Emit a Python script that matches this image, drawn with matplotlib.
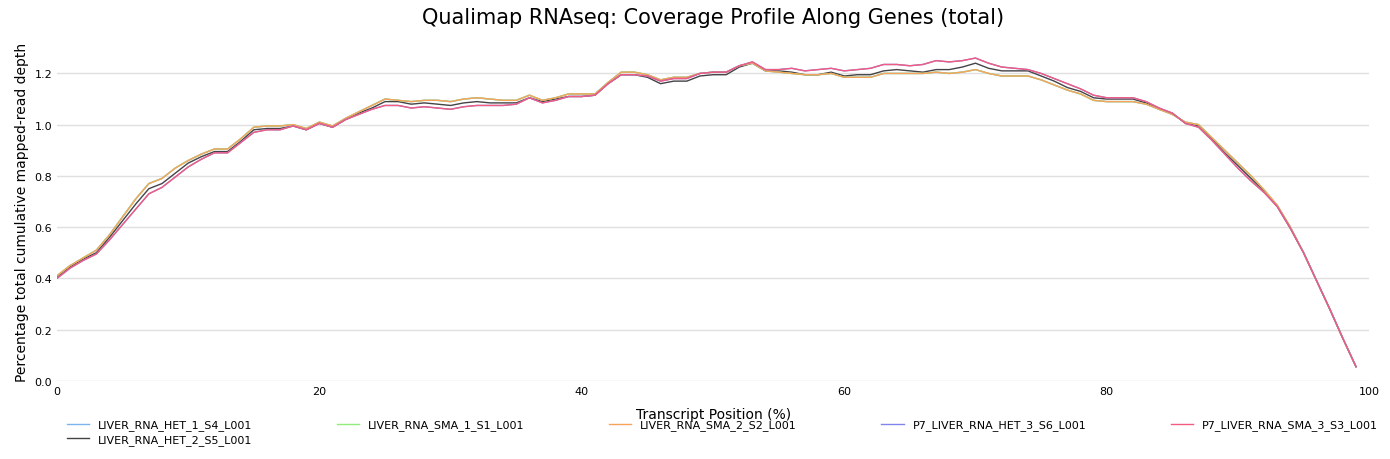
import matplotlib.pyplot as plt
import numpy as np

# Coverage values (x = 0..99 %)
position = list(range(100))

upper = [0.41, 0.45, 0.48, 0.51, 0.57, 0.64, 0.71, 0.77, 0.79, 0.83,
         0.86, 0.885, 0.905, 0.905, 0.945, 0.99, 0.995, 0.995, 1.0, 0.985,
         1.01, 0.995, 1.025, 1.05, 1.075, 1.1, 1.095, 1.09, 1.095, 1.095,
         1.09, 1.1, 1.105, 1.1, 1.095, 1.095, 1.115, 1.095, 1.105, 1.12,
         1.12, 1.12, 1.165, 1.205, 1.205, 1.195, 1.175, 1.185, 1.185, 1.2,
         1.205, 1.205, 1.23, 1.24, 1.21, 1.205, 1.2, 1.195, 1.195, 1.2,
         1.185, 1.185, 1.185, 1.2, 1.2, 1.2, 1.2, 1.205, 1.2, 1.205,
         1.215, 1.2, 1.19, 1.19, 1.19, 1.175, 1.155, 1.135, 1.12, 1.095,
         1.09, 1.09, 1.09, 1.08, 1.06, 1.04, 1.01, 1.0, 0.95, 0.9,
         0.85, 0.8, 0.745, 0.685, 0.6, 0.5, 0.39, 0.28, 0.165, 0.055]

lower = [0.40, 0.44, 0.47, 0.495, 0.55, 0.61, 0.67, 0.73, 0.755, 0.795,
         0.835, 0.865, 0.89, 0.89, 0.93, 0.97, 0.98, 0.98, 0.995, 0.98,
         1.005, 0.99, 1.02, 1.04, 1.06, 1.075, 1.075, 1.065, 1.07, 1.065,
         1.06, 1.07, 1.075, 1.075, 1.075, 1.08, 1.105, 1.085, 1.095, 1.11,
         1.11, 1.115, 1.16, 1.195, 1.195, 1.19, 1.17, 1.18, 1.18, 1.2,
         1.205, 1.205, 1.23, 1.245, 1.215, 1.215, 1.22, 1.21, 1.215, 1.22,
         1.21, 1.215, 1.22, 1.235, 1.235, 1.23, 1.235, 1.25, 1.245, 1.25,
         1.26, 1.24, 1.225, 1.22, 1.215, 1.2, 1.18, 1.16, 1.14, 1.115,
         1.105, 1.105, 1.105, 1.09, 1.065, 1.045, 1.005, 0.99, 0.94, 0.885,
         0.83, 0.78, 0.735, 0.68, 0.595, 0.5, 0.39, 0.28, 0.165, 0.055]

middle = [0.405, 0.445, 0.475, 0.50, 0.56, 0.625, 0.69, 0.75, 0.77, 0.81,
          0.85, 0.875, 0.895, 0.895, 0.935, 0.98, 0.985, 0.985, 0.995, 0.98,
          1.005, 0.99, 1.02, 1.045, 1.065, 1.09, 1.09, 1.08, 1.085, 1.08,
          1.075, 1.085, 1.09, 1.085, 1.085, 1.085, 1.105, 1.09, 1.1, 1.11,
          1.11, 1.115, 1.16, 1.195, 1.195, 1.185, 1.16, 1.17, 1.17, 1.19,
          1.195, 1.195, 1.225, 1.24, 1.21, 1.21, 1.205, 1.195, 1.195, 1.205,
          1.19, 1.195, 1.195, 1.21, 1.215, 1.21, 1.205, 1.215, 1.215, 1.225,
          1.24, 1.22, 1.21, 1.21, 1.21, 1.19, 1.17, 1.145, 1.13, 1.105,
          1.1, 1.1, 1.1, 1.085, 1.06, 1.045, 1.005, 0.995, 0.945, 0.89,
          0.84, 0.79, 0.74, 0.68, 0.595, 0.5, 0.39, 0.28, 0.165, 0.055]

samples = ["LIVER_RNA_HET_1_S4_L001", "LIVER_RNA_HET_2_S5_L001",
           "LIVER_RNA_SMA_1_S1_L001", "LIVER_RNA_SMA_2_S2_L001",
           "P7_LIVER_RNA_HET_3_S6_L001", "P7_LIVER_RNA_SMA_3_S3_L001"]
series = [upper, middle, upper, upper, lower, lower]
colors = ["#7cb5ec", "#434348", "#90ed7d", "#f7a35c", "#8085e9", "#f15c80"]

fig, ax = plt.subplots(figsize=(13.9, 4.6), dpi=100)
fig.subplots_adjust(left=0.041, right=0.985, top=0.905, bottom=0.17)

for name, vals, c in zip(samples, series, colors):
    ax.plot(position, vals, color=c, lw=1.0, label=name)

ax.set_xlim(0, 100)
ax.set_ylim(0, 1.32)
ax.set_yticks(np.arange(0, 1.21, 0.2))
ax.set_yticklabels([f"{v:.1f}" for v in np.arange(0, 1.21, 0.2)])
ax.set_xticks([0, 20, 40, 60, 80, 100])
ax.tick_params(labelsize=8, length=0)
ax.grid(axis="y", color="#e0e0e0", lw=1)
ax.set_axisbelow(True)
for s in ["top", "right", "left", "bottom"]:
    ax.spines[s].set_visible(False)

ax.set_title("Qualimap RNAseq: Coverage Profile Along Genes (total)", fontsize=15, pad=14)
ax.set_xlabel("Transcript Position (%)", fontsize=10, labelpad=8)
ax.set_ylabel("Percentage total cumulative mapped-read depth", fontsize=10)

ax.legend(loc="upper left", bbox_to_anchor=(0.0, -0.085), ncol=5, frameon=False,
          fontsize=8, handlelength=2, columnspacing=7.6, labelspacing=0.3)

plt.savefig("out.png")
